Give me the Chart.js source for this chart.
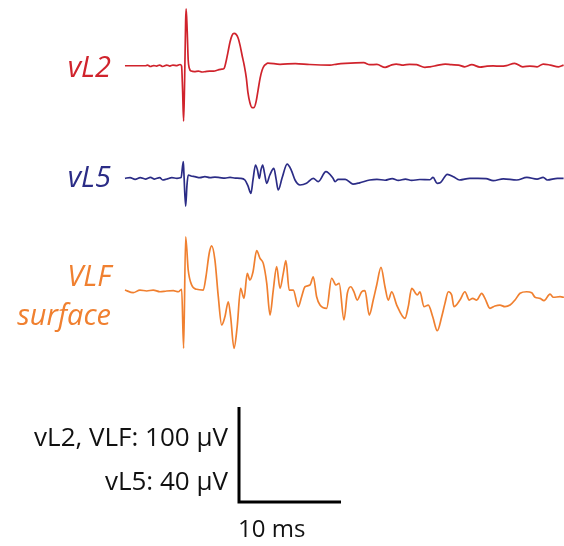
<!DOCTYPE html>
<html>
<head>
<meta charset="utf-8">
<script src="https://cdn.jsdelivr.net/npm/chart.js@4.4.1/dist/chart.umd.min.js"></script>
<style>
  html, body { margin: 0; padding: 0; background: #fff; }
  #wrap { position: relative; width: 564px; height: 546px; }
</style>
</head>
<body>
<div id="wrap"><canvas id="chart" width="564" height="546"></canvas></div>
<script>
// --- DATA --- time in ms, amplitude in µV
const vL2Time = [0, 0.5, 2.0, 2.2, 2.5, 2.8, 3.1, 3.4, 3.7, 4.1, 4.4, 4.7, 5.1, 5.4, 5.55, 5.65, 5.75, 5.85, 5.95, 6.0,
  6.1, 6.2, 6.3, 6.5, 6.8, 7.2, 7.55, 7.9, 8.3, 8.7, 9.1, 9.5, 9.7, 9.9, 10.1, 10.3, 10.5, 10.7, 10.9, 11.1,
  11.3, 11.5, 11.7, 11.9, 12.05, 12.25, 12.45, 12.65, 12.85, 13.05, 13.25, 13.45, 13.65, 13.8, 14.0, 15.2, 16.7, 18.1, 20.1, 20.8,
  21.6, 23.4, 24.0, 24.7, 25.5, 26.1, 26.6, 27.3, 27.9, 28.6, 29.4, 29.9, 30.6, 31.4, 32.0, 32.7, 33.3, 34.0, 34.8, 35.5,
  36.1, 36.8, 37.4, 38.2, 39.0, 39.7, 40.4, 41.0, 41.7, 42.5, 43.0];
const vL2Vals = [0, 0, 0, 0.7, -0.8, 0.2, -0.3, 0.7, -0.8, 0.7, -0.3, 0.7, 0.2, 1.3, -0.3, -25.6, -58.2, -15, 48, 60,
  37, 6, -2.4, -5.6, -6.1, -5.6, -6.6, -6.1, -5.6, -5.6, -4.5, -3.5, -3.0, 3.9, 14.4, 25, 32, 34, 33, 29,
  20.7, 10, 0, -13, -27.7, -39, -44, -44, -38, -25.6, -13, -4.5, 0, 1.3, 2.8, 1.5, 2.3, 1.3, 0.7, 1.8,
  2.5, 3.2, 1.1, 1.4, -1.7, 0.7, 1.8, 0.7, 1.5, 1.1, -1.7, -1.1, 0.3, 1.8, 1.1, 0.7, -1.1, 1.1, -1.4, -0.4,
  -0.2, -0.4, 0.2, 2.5, -1.1, -0.4, -1.1, 1.8, 0.7, -1.1, 0.7];

const vL5Time = [0, 0.5, 1.0, 1.5, 2.0, 2.5, 2.9, 3.4, 3.7, 4.1, 4.6, 5.1, 5.5, 5.72, 5.78, 5.95, 6.08, 6.2, 6.47, 6.86,
  7.35, 7.84, 8.33, 8.82, 9.3, 9.8, 10.3, 10.8, 11.3, 11.76, 12.06, 12.35, 12.55, 12.8, 12.99, 13.17, 13.33, 13.5, 13.68, 13.89,
  14.2, 14.6, 14.8, 15.03, 15.4, 15.9, 16.3, 16.67, 17.16, 17.8, 18.46, 18.95, 19.7, 20.4, 20.6, 20.9, 21.6, 22.35, 23.0, 24.0,
  24.7, 25.5, 26.2, 26.8, 27.5, 28.1, 28.9, 29.9, 30.2, 30.6, 30.9, 31.6, 32.2, 32.8, 33.8, 34.6, 35.4, 36.1, 37.1, 38.4,
  39.4, 40.4, 41.0, 41.4, 42.4, 43.0];
const vL5Vals = [0, 0.3, -0.4, 0.3, -0.3, 0.4, -0.3, 0.3, -0.7, -0.3, 0.3, 0, 0.3, 7.0, 2.0, -11.7, -2.8, 1.4, 1.0, 0.7,
  0.3, 0.7, 0.3, 0.5, 0.3, 0.1, 0.4, 0.1, 0, -0.7, -3.2, -6.3, -0.7, 5.6, 3.5, 0, 3.5, 5.6, 2.2, -2.1,
  1.4, 4.2, 0.1, -4.9, 0.1, 6.0, 3.5, -0.7, -2.8, -2.1, 0, -1.4, 2.8, 0, -1.4, -0.4, -0.4, -2.4, -1.9, -0.7,
  -0.4, -0.8, -0.1, -0.9, -0.3, -0.9, -0.5, -0.6, 0.4, -2.1, -1.9, 1.7, 0.7, -0.7, 0, 0, -0.1, -1.0, -0.2, -0.7,
  0.4, -0.3, 0.4, -0.7, 0, 0];

const vlfTime = [0, 0.81, 1.47, 2.13, 2.77, 3.43, 4.09, 4.74, 5.23, 5.56, 5.75, 5.95, 6.2, 6.54, 7.03, 7.68, 7.94, 8.26, 8.5, 8.82,
  9.15, 9.48, 9.8, 10.13, 10.36, 10.69, 11.0, 11.34, 11.67, 11.99, 12.25, 12.55, 12.91, 13.24, 13.56, 13.9, 14.22, 14.54, 14.87, 15.2,
  15.52, 15.78, 16.1, 16.5, 16.99, 17.32, 17.65, 18.14, 18.46, 18.79, 19.12, 19.77, 20.26, 20.69, 21.0, 21.47, 21.8, 22.13, 22.45, 22.77,
  23.2, 23.53, 23.95, 24.34, 24.68, 25.1, 25.49, 25.81, 26.15, 26.64, 27.45, 27.77, 28.11, 28.66, 28.92, 29.31, 29.74, 30.17, 30.62, 31.05,
  31.37, 31.7, 32.03, 32.25, 32.84, 33.33, 33.75, 34.09, 34.48, 34.97, 35.29, 35.78, 36.27, 36.76, 37.25, 37.75, 38.24, 38.73, 39.38, 39.87,
  40.2, 40.69, 41.08, 41.67, 42.0, 42.65, 43.04];
const vlfVals = [0.7, -2.1, 0.7, -0.3, 0.7, -1.1, -0.3, 0, -1.1, 1.5, -60.6, 56.8, 21.8, 6.0, 1.5, 0.7, 14.7, 39.4, 47.1, 32.3,
  -6.3, -36.1, -27.4, -11.6, -27.4, -60.6, -37.9, 2.5, -8.0, 18.3, 11.3, 19.7, 42.1, 34.1, 28.8, 7.8, -25.6, 0.7, 25.3, 2.5,
  18.3, 31.6, 0.7, 0.7, -16.8, -6.3, 4.2, 6.0, 14.7, -6.3, -15.1, -18.5, 13.1, 6.0, 7.8, -30.8, -2.7, 4.2, -1.1, -9.8,
  -1.1, 0, -25.6, -9.8, 6.0, 24.6, 4.2, -9.8, -1.1, -15.1, -29.1, -16.8, 2.5, -4.5, -1.1, -16.8, -15.1, -27.4, -42.1, -27.4,
  -13.3, -1.1, -4.5, -16.8, -9.8, -1.1, -9.8, -8.0, -9.8, -2.7, -8.0, -18.5, -16.1, -15.1, -16.8, -15.1, -9.8, -2.7, -1.1, -2.1,
  -6.9, -8.0, -10.5, -3.5, -6.9, -6.3, -6.9];

// scale bar: 10 ms horizontal, 100 µV vertical (40 µV for vL5)
const barMs = 10;
const barUv = 100;
const vL5Gain = 100 / 40;

// --- LAYOUT (display units: ms across, µV down the page) ---
const xMin = -12.25, xMax = 43.04;
const yMin = -574.7, yMax = 0;
const offL2 = -69.2, offL5 = -187.7, offVLF = -306;
const barX = 11.18, barY = -528.4;

const red = '#d0232c', blue = '#2b2c86', orange = '#f08030';

function trace(times, vals, off, gain) {
  return times.map((t, i) => ({ x: t, y: off + vals[i] * gain }));
}

const lineStyle = {
  pointRadius: 0, borderWidth: 1.7, cubicInterpolationMode: 'monotone',
  borderJoinStyle: 'round', fill: false
};

const labelPlugin = {
  id: 'labels',
  afterDraw(chart) {
    const c = chart.ctx;
    c.save();
    c.textAlign = 'right';
    c.textBaseline = 'alphabetic';
    c.font = 'italic 29px "Open Sans"';
    c.fillStyle = red;   c.fillText('vL2', 111, 77);
    c.fillStyle = blue;  c.fillText('vL5', 111, 187);
    c.fillStyle = orange;
    c.fillText('VLF', 111, 286);
    c.fillText('surface', 111, 325);
    c.fillStyle = '#111';
    c.font = '26px "Open Sans"';
    c.fillText('vL2, VLF: 100 \u00b5V', 228, 446);
    c.fillText('vL5: 40 \u00b5V', 228, 490);
    c.textAlign = 'left';
    c.font = '24px "Open Sans"';
    c.fillText('10 ms', 238, 537);
    c.restore();
  }
};

new Chart(document.getElementById('chart'), {
  type: 'line',
  data: {
    datasets: [
      { data: trace(vL2Time, vL2Vals, offL2, 1), borderColor: red, ...lineStyle },
      { data: trace(vL5Time, vL5Vals, offL5, vL5Gain), borderColor: blue, ...lineStyle },
      { data: trace(vlfTime, vlfVals, offVLF, 1), borderColor: orange, ...lineStyle },
      {
        data: [{ x: barX, y: barY + barUv }, { x: barX, y: barY }, { x: barX + barMs, y: barY }],
        borderColor: '#000', borderWidth: 3, pointRadius: 0, tension: 0, borderJoinStyle: 'miter', borderCapStyle: 'butt'
      }
    ]
  },
  options: {
    responsive: false,
    animation: false,
    layout: { padding: 0 },
    plugins: { legend: { display: false }, tooltip: { enabled: false } },
    scales: {
      x: { type: 'linear', min: xMin, max: xMax, display: false },
      y: { type: 'linear', min: yMin, max: yMax, display: false }
    }
  },
  plugins: [labelPlugin]
});
</script>
</body>
</html>
